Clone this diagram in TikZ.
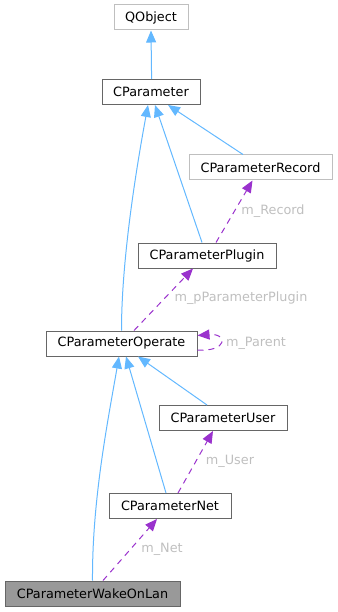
\documentclass[tikz,border=0pt]{standalone}
\usepackage{fontspec}
\setmainfont{DejaVu Sans}
\usetikzlibrary{arrows.meta}
\definecolor{inh}{HTML}{63B8FF}
\definecolor{use}{HTML}{9A32CD}
\definecolor{lbl}{HTML}{BFBFBF}
\definecolor{bd}{HTML}{666666}
\definecolor{bdl}{HTML}{BFBFBF}
\definecolor{cur}{HTML}{999999}
\tikzset{
  box/.style={draw=bd, line width=1pt, rectangle, minimum height=25pt, inner sep=0pt, font=\fontsize{12.8}{14}\selectfont, text=black},
  lbox/.style={box, draw=bdl},
  inhe/.style={draw=inh, line width=1pt, -{Triangle[length=12pt,width=10pt]}},
  usee/.style={draw=use, line width=1pt, dash pattern=on 6pt off 5pt, -{Triangle[length=12pt,width=10pt]}},
  elbl/.style={text=lbl, font=\fontsize{12.8}{14}\selectfont, inner sep=0pt}
}
\begin{document}
\begin{tikzpicture}[x=1pt,y=-1pt]
\useasboundingbox (0,0) rectangle (337,612);
\node[lbox, minimum width=74pt] (qobj) at (151,17.5) {QObject};
\node[box, minimum width=98pt] (par) at (151,92) {CParameter};
\node[lbox, minimum width=143pt] (rec) at (260.5,167.5) {CParameterRecord};
\node[box, minimum width=138pt] (plug) at (207,255.5) {CParameterPlugin};
\node[box, minimum width=151pt] (op) at (121.5,343.5) {CParameterOperate};
\node[box, minimum width=128pt] (user) at (223,418) {CParameterUser};
\node[box, minimum width=122pt] (net) at (170,506) {CParameterNet};
\node[box, fill=cur, minimum width=175pt] (wake) at (92.5,593.5) {CParameterWakeOnLan};

% inheritance
\draw[inhe] ([xshift=0.6]par.north) -- (qobj.south);
\draw[inhe] (op.north) .. controls (121.5,260) and (136,170) .. ([xshift=-3]par.south);
\draw[inhe] ([xshift=-5]plug.north) -- ([xshift=4]par.south);
\draw[inhe] ([xshift=-17.5]rec.north) -- ([xshift=17]par.south);
\draw[inhe] (wake.north) .. controls (92,500) and (108,420) .. ([xshift=-2.5]op.south);
\draw[inhe] ([xshift=-4]net.north) -- ([xshift=4.5]op.south);
\draw[inhe] ([xshift=-16]user.north) -- ([xshift=16.5]op.south);

% usage
\draw[usee] ([xshift=9]plug.north) -- ([xshift=-8]rec.south);
\draw[usee] ([xshift=12.5]op.north) -- ([xshift=-14]plug.south);
\draw[usee] ([yshift=-6.5]op.east) .. controls (228,352) and (228,333) .. ([yshift=8]op.east);
\draw[usee] ([xshift=8]net.north) -- ([xshift=-10]user.south);
\draw[usee] ([xshift=10.5]wake.north) -- ([xshift=-13]net.south);

\node[elbl] (lrec) at (273,211) {m\_Record};
\node[elbl] (lplug) at (241,298) {m\_pParameterPlugin};
\node[elbl] (lpar) at (256,343) {m\_Parent};
\node[elbl] (luser) at (230,461) {m\_User};
\node[elbl] (lnet) at (162,549) {m\_Net};
\end{tikzpicture}
\end{document}
